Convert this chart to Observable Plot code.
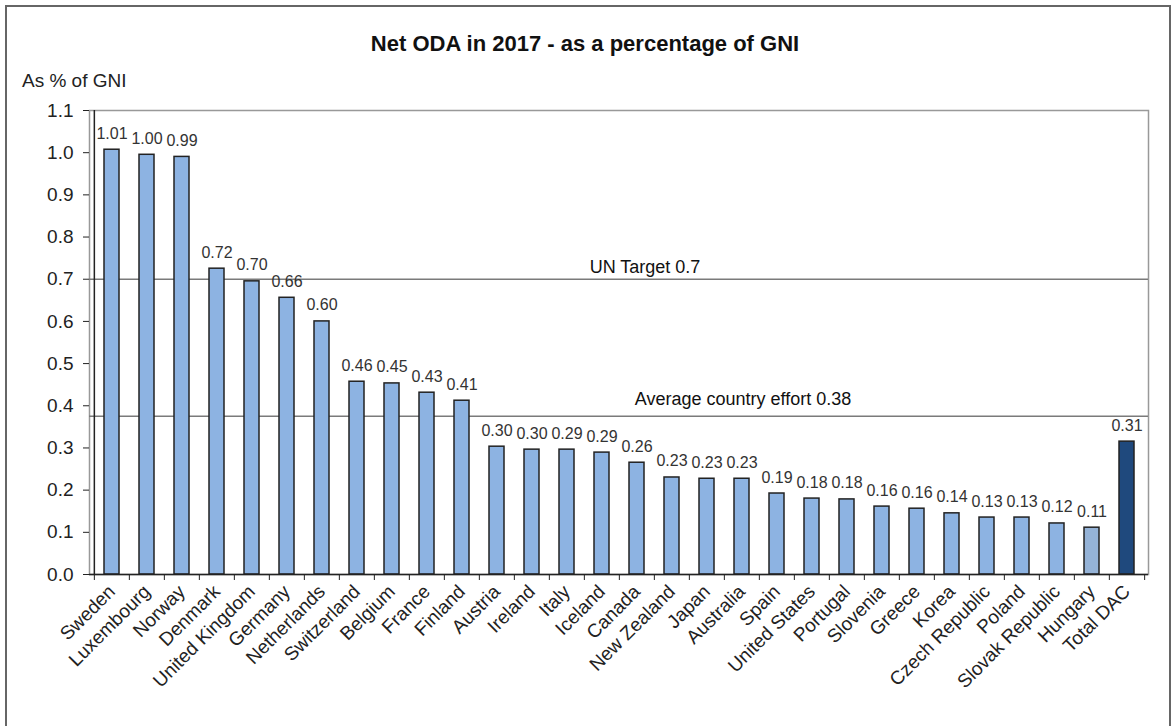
<!DOCTYPE html>
<html>
<head>
<meta charset="utf-8">
<script src="https://cdn.jsdelivr.net/npm/d3@7"></script>
<script src="https://cdn.jsdelivr.net/npm/@observablehq/plot@0.6"></script>
<style>
  html, body { margin: 0; padding: 0; background: #fff; overflow: hidden; }
  #wrap { position: relative; width: 1172px; height: 726px; font-family: "Liberation Sans", Arial, sans-serif; color: #222; }
  #border { position: absolute; left: 5px; top: 5px; width: 1166px; height: 760px; border: 2px solid #666; box-sizing: border-box; }
  #title { position: absolute; left: 0; width: 1170px; top: 31px; text-align: center; font-weight: bold; font-size: 22px; color: #111; }
  #ylabel { position: absolute; left: 22px; top: 70px; font-size: 19px; color: #222; }
  #chart svg { position: absolute; left: 0; top: 0; }
</style>
</head>
<body>
<div id="wrap">
  <div id="border"></div>
  <div id="chart"></div>
  <div id="title">Net ODA in 2017 - as a percentage of GNI</div>
  <div id="ylabel">As % of GNI</div>
</div>
<script>
const categories = ["Sweden","Luxembourg","Norway","Denmark","United Kingdom","Germany","Netherlands","Switzerland","Belgium","France","Finland","Austria","Ireland","Italy","Iceland","Canada","New Zealand","Japan","Australia","Spain","United States","Portugal","Slovenia","Greece","Korea","Czech Republic","Poland","Slovak Republic","Hungary","Total DAC"];
const values = [1.007,0.995,0.99,0.725,0.695,0.656,0.60,0.457,0.453,0.431,0.412,0.303,0.296,0.296,0.289,0.265,0.23,0.227,0.227,0.192,0.18,0.178,0.161,0.156,0.145,0.135,0.135,0.121,0.111,0.315];
const valueLabels = ["1.01","1.00","0.99","0.72","0.70","0.66","0.60","0.46","0.45","0.43","0.41","0.30","0.30","0.29","0.29","0.26","0.23","0.23","0.23","0.19","0.18","0.18","0.16","0.16","0.14","0.13","0.13","0.12","0.11","0.31"];
const yTicks = [0,0.1,0.2,0.3,0.4,0.5,0.6,0.7,0.8,0.9,1.0,1.1];
const refValues = [0.7, 0.375];
const refLabels = ["UN Target 0.7", "Average country effort 0.38"];
const refAnchors = ["Canada", "Australia"];

const data = categories.map((c, i) => ({cat: c, value: values[i], label: valueLabels[i]}));
const refs = refValues.map((v, i) => ({value: v, label: refLabels[i], anchor: refAnchors[i]}));

const W = 1172, H = 726, ML = 89, MR = 24, MT = 110, MB = 152;
const step = (W - ML - MR) / categories.length;
const fillFor = d => d.cat === "Total DAC" ? "#1F497D" : d.cat === "Hungary" ? "#95B3D7" : "#8DB3E2";

const chart = Plot.plot({
  width: W, height: H,
  marginLeft: ML, marginRight: MR, marginTop: MT, marginBottom: MB,
  style: {fontFamily: '"Liberation Sans", Arial, sans-serif', fontSize: "17px", color: "#222", background: "transparent"},
  x: {domain: categories, paddingInner: 0.58, paddingOuter: 0.29, label: null},
  y: {domain: [0, 1.1], label: null},
  marks: [
    Plot.frame({stroke: "#999", strokeWidth: 1.5}),
    Plot.ruleY(refs, {y: "value", stroke: "#7a7a7a", strokeWidth: 1.5}),
    Plot.text([refs[0]], {x: "anchor", y: "value", text: "label", dx: 8, dy: -6, lineAnchor: "bottom", fontSize: 18, fill: "#111"}),
    Plot.text([refs[1]], {x: "anchor", y: "value", text: "label", dx: 1, dy: -11, lineAnchor: "bottom", fontSize: 18, fill: "#111"}),
    Plot.barY(data, {x: "cat", y: "value", fill: fillFor, stroke: "#222", strokeWidth: 1.5}),
    Plot.text(data, {x: "cat", y: "value", text: "label", dy: -11, lineAnchor: "bottom", fontSize: 16, fill: "#333"}),
    Plot.ruleY([0], {stroke: "#222", strokeWidth: 1.5}),
    Plot.ruleX([categories[0]], {y1: 0, y2: 1.1, dx: -step / 2, stroke: "#222", strokeWidth: 1.5}),
    Plot.axisY({ticks: yTicks, tickFormat: d => d.toFixed(1), tickSize: 6, tickPadding: 10, fontSize: 19, stroke: "#222"}),
    Plot.axisX({ticks: categories, tickSize: 6, tickFormat: () => "", dx: -step / 2, stroke: "#222"}),
    Plot.axisX({ticks: [categories[categories.length - 1]], tickSize: 6, tickFormat: () => "", dx: step / 2, stroke: "#222"}),
    Plot.axisX({tickSize: 0, tickRotate: -45, tickPadding: 14, fontSize: 19, fill: "#222"})
  ]
});
document.getElementById("chart").appendChild(chart);
</script>
</body>
</html>
